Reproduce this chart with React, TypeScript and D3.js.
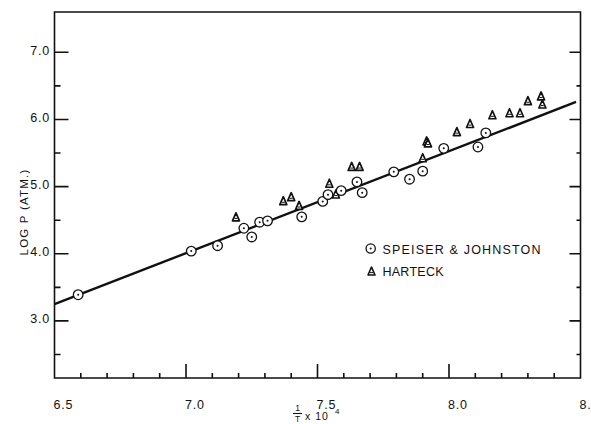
import React, { useEffect, useRef } from "react";
import * as d3 from "d3";

// ---- data ----
const speiserX = [6.59, 7.02, 7.12, 7.22, 7.25, 7.28, 7.31, 7.44, 7.52, 7.54, 7.59, 7.65, 7.67, 7.79, 7.85, 7.9, 7.98, 8.11, 8.14];
const speiserY = [3.39, 4.04, 4.12, 4.38, 4.25, 4.47, 4.49, 4.55, 4.78, 4.88, 4.94, 5.07, 4.91, 5.22, 5.11, 5.23, 5.57, 5.59, 5.8];

const harteckX = [7.19, 7.37, 7.4, 7.43, 7.545, 7.57, 7.63, 7.66, 7.9, 7.915, 7.92, 8.03, 8.08, 8.165, 8.23, 8.27, 8.3, 8.35, 8.355];
const harteckY = [4.55, 4.79, 4.85, 4.72, 5.05, 4.89, 5.3, 5.3, 5.43, 5.68, 5.65, 5.82, 5.94, 6.07, 6.1, 6.1, 6.28, 6.35, 6.23];

const fitX = [6.5, 8.483];
const fitY = [3.25, 6.26];

const yMajorTicks = [3, 4, 5, 6, 7];
const yMinorTicks = [2.5, 3.5, 4.5, 5.5, 6.5];
const xMajorTicks = [6.5, 7.0, 7.5, 8.0, 8.5];
const xMinorTicks = [6.6, 6.7, 6.8, 6.9, 7.1, 7.2, 7.3, 7.4, 7.6, 7.7, 7.8, 7.9, 8.1, 8.2, 8.3, 8.4];

const legendLabels = ["SPEISER & JOHNSTON", "HARTECK"];

const W = 591;
const H = 424;
const L = 54.5, R = 580.5, T = 12, B = 378;
const FONT = "'Liberation Sans', Arial, sans-serif";
const INK = "#111";

export default function App() {
  const ref = useRef<SVGSVGElement | null>(null);
  const sx = d3.scaleLinear().domain([6.5, 8.5]).range([L, R]);
  const sy = d3.scaleLinear().domain([2.15, 7.6]).range([B, T]);

  useEffect(() => {
    if (!ref.current) return;
    const svg = d3.select(ref.current);
    svg.selectAll("g.axes").remove();
    const g = svg.append("g").attr("class", "axes");

    // frame + ticks as one path
    const p = d3.path();
    p.moveTo(L, T); p.lineTo(R, T); p.lineTo(R, B); p.lineTo(L, B); p.closePath();
    yMajorTicks.forEach((t) => { p.moveTo(L, sy(t)); p.lineTo(L + 14, sy(t)); });
    yMinorTicks.forEach((t) => { p.moveTo(L, sy(t)); p.lineTo(L + 6, sy(t)); });
    yMajorTicks.forEach((t) => { p.moveTo(R, sy(t)); p.lineTo(R - 11, sy(t)); });
    yMinorTicks.forEach((t) => { p.moveTo(R, sy(t)); p.lineTo(R - 4, sy(t)); });
    xMajorTicks.forEach((t) => { p.moveTo(sx(t), B); p.lineTo(sx(t), B - 14); });
    xMinorTicks.forEach((t) => { p.moveTo(sx(t), B); p.lineTo(sx(t), B - 5); });
    g.append("path")
      .attr("d", p.toString())
      .attr("fill", "none")
      .attr("stroke", INK)
      .attr("stroke-width", 1.6);

    // fraction bar in x title
    g.append("path")
      .attr("d", "M293,413.5L302,413.5")
      .attr("stroke", INK)
      .attr("stroke-width", 1.1);
  }, []);

  const fitLine = d3
    .line<number>()
    .x((_d, i) => sx(fitX[i]))
    .y((d) => sy(d));

  const triPath = (cx: number, cy: number) => {
    const h = 8, w = 7;
    return `M${cx},${cy - h / 2}L${cx + w / 2},${cy + h / 2}L${cx - w / 2},${cy + h / 2}Z`;
  };

  return (
    <svg
      ref={ref}
      width={W}
      height={H}
      viewBox={`0 0 ${W} ${H}`}
      style={{ position: "absolute", left: 0, top: 0, background: "#fff" }}
    >
      <rect x={0} y={0} width={W} height={H} fill="#fff" />

      {/* y tick labels */}
      {yMajorTicks.map((t) => (
        <text
          key={"yl" + t}
          x={50}
          y={sy(t) + 2.5}
          textAnchor="end"
          fontFamily={FONT}
          fontSize={12.5}
          letterSpacing={0.8}
          fill={INK}
        >
          {t.toFixed(1)}
        </text>
      ))}
      {/* x tick labels */}
      {xMajorTicks.map((t) => (
        <text
          key={"xl" + t}
          x={sx(t) - 1}
          y={409}
          textAnchor="start"
          fontFamily={FONT}
          fontSize={12.5}
          letterSpacing={0.8}
          fill={INK}
        >
          {t.toFixed(1)}
        </text>
      ))}

      {/* y axis title */}
      <text
        transform={`translate(28,212) rotate(-90)`}
        textAnchor="middle"
        fontFamily={FONT}
        fontSize={11.5}
        letterSpacing={1.2}
        fill={INK}
      >
        LOG P (ATM.)
      </text>

      {/* x axis title: 1/T x 10^4 */}
      <g fontFamily={FONT} fill={INK}>
        <text x={297.5} y={411} textAnchor="middle" fontSize={8.5}>1</text>
        <text x={297.5} y={422} textAnchor="middle" fontSize={8.5}>T</text>
        <text x={305} y={420} fontSize={10.5} letterSpacing={1}>x 10</text>
        <text x={335} y={414} fontSize={8}>4</text>
      </g>

      {/* fitted line */}
      <path d={fitLine(fitY) || ""} fill="none" stroke={INK} strokeWidth={2.4} />

      {/* Harteck triangles */}
      {harteckX.map((v, i) => {
        const cx = sx(v), cy = sy(harteckY[i]);
        return (
          <g key={"h" + i}>
            <path d={triPath(cx, cy)} fill="#fff" stroke={INK} strokeWidth={1.7} strokeLinejoin="round" />
            <path d={`M${cx - 1.5},${cy + 1.6}L${cx + 1.5},${cy + 1.6}`} stroke={INK} strokeWidth={1} />
          </g>
        );
      })}

      {/* Speiser & Johnston circles */}
      {speiserX.map((v, i) => {
        const cx = sx(v), cy = sy(speiserY[i]);
        return (
          <g key={"s" + i}>
            <circle cx={cx} cy={cy} r={4.8} fill="#fff" stroke={INK} strokeWidth={1.3} />
            <circle cx={cx} cy={cy} r={1} fill={INK} />
          </g>
        );
      })}

      {/* legend */}
      <circle cx={370.7} cy={248.5} r={4.6} fill="#fff" stroke={INK} strokeWidth={1.3} />
      <circle cx={370.7} cy={248.5} r={1} fill={INK} />
      <text
        x={382.5}
        y={253.5}
        fontFamily={FONT}
        fontSize={12.5}
        textLength={158}
        lengthAdjust="spacing"
        fill={INK}
      >
        {legendLabels[0]}
      </text>
      <path d={triPath(371.5, 271)} fill="#fff" stroke={INK} strokeWidth={1.6} strokeLinejoin="round" />
      <path d="M370,272.6L373,272.6" stroke={INK} strokeWidth={1} />
      <text
        x={382.5}
        y={276}
        fontFamily={FONT}
        fontSize={12.5}
        textLength={61}
        lengthAdjust="spacing"
        fill={INK}
      >
        {legendLabels[1]}
      </text>
    </svg>
  );
}
